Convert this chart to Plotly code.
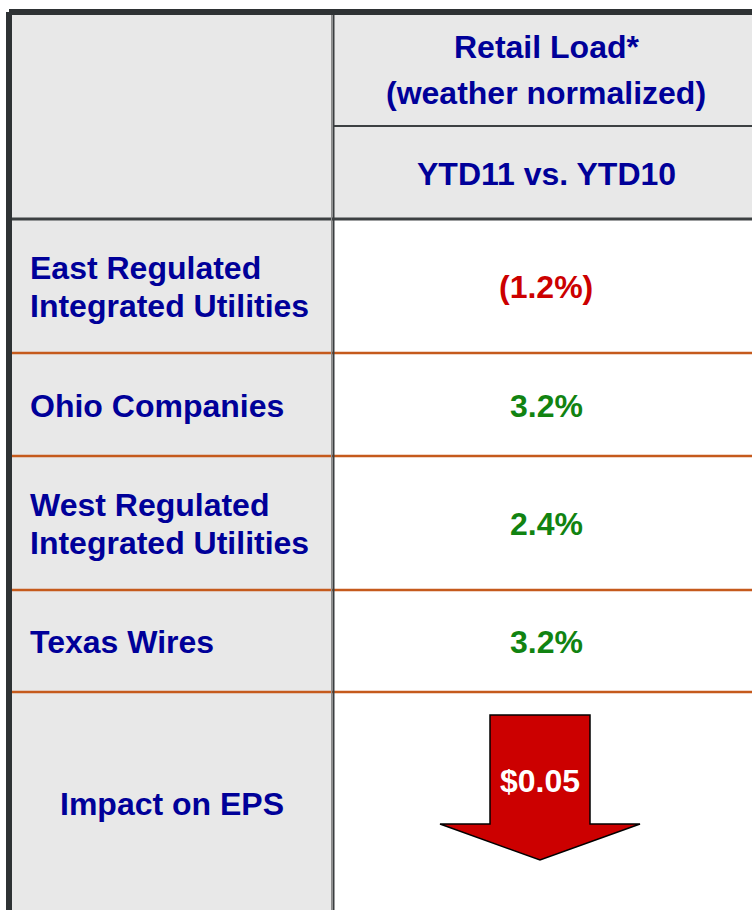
import plotly.graph_objects as go

# ---------------- data ----------------
header_title = ["Retail Load*", "(weather normalized)"]
header_period = "YTD11 vs. YTD10"
segments = [
    ["East Regulated", "Integrated Utilities"],
    ["Ohio Companies"],
    ["West Regulated", "Integrated Utilities"],
    ["Texas Wires"],
]
load_change_pct = [-1.2, 3.2, 2.4, 3.2]
eps_label = "Impact on EPS"
eps_impact = -0.05

# ---------------- style / layout ----------------
W, H = 752, 910
FONT = "Liberation Sans, Arial, sans-serif"
FS = 32
NAVY = "#000099"
RED = "#cc0000"
GREEN = "#118311"
ORANGE = "#c55a1c"
GREY_BG = "#e8e8e8"
DARK = "#2e3234"

col_left_x0, col_split, col_right_x1 = 12, 333, 760
header_edges = [15, 126, 219]
row_edges = [219, 353, 456, 590, 692, 910]

fig = go.Figure()
shapes = []
ann = []

# backgrounds
shapes.append(dict(type="rect", x0=col_left_x0, x1=col_split, y0=header_edges[0], y1=H,
                   fillcolor=GREY_BG, line_width=0, layer="below"))
shapes.append(dict(type="rect", x0=col_split, x1=col_right_x1, y0=header_edges[0], y1=header_edges[2],
                   fillcolor=GREY_BG, line_width=0, layer="below"))

# orange row separators
for y in row_edges[1:-1]:
    shapes.append(dict(type="line", x0=col_left_x0, x1=col_right_x1, y0=y, y1=y,
                       line=dict(color=ORANGE, width=2.5)))

# header lines
shapes.append(dict(type="line", x0=col_split, x1=col_right_x1, y0=header_edges[1], y1=header_edges[1],
                   line=dict(color="#3c4042", width=2)))
shapes.append(dict(type="line", x0=col_left_x0, x1=col_right_x1, y0=header_edges[2], y1=header_edges[2],
                   line=dict(color="#3c4042", width=3)))

# vertical divider
shapes.append(dict(type="line", x0=col_split - 1.5, x1=col_split - 1.5, y0=header_edges[0], y1=H,
                   line=dict(color="#8c8c8c", width=1)))
shapes.append(dict(type="line", x0=col_split + 0.5, x1=col_split + 0.5, y0=header_edges[0], y1=H,
                   line=dict(color="#3a3d3f", width=2)))

# outer borders (top and left)
shapes.append(dict(type="rect", x0=9, x1=W, y0=9, y1=15, fillcolor=DARK, line_width=0))
shapes.append(dict(type="rect", x0=6, x1=12, y0=12, y1=H, fillcolor=DARK, line_width=0))

right_cx = (col_split + col_right_x1) / 2 - 0.5


def text(x, y, s, color=NAVY, xanchor="center", size=FS):
    ann.append(dict(x=x, y=y, xref="x", yref="y", text=f"<b>{s}</b>", showarrow=False,
                    xanchor=xanchor, yanchor="middle",
                    font=dict(family=FONT, size=size, color=color)))


# header text
text(right_cx, 47, header_title[0])
text(right_cx, 93, header_title[1])
text(right_cx, (header_edges[1] + header_edges[2]) / 2 + 1, header_period)

# rows
line_gap = 38
for i, (lines, v) in enumerate(zip(segments, load_change_pct)):
    cy = (row_edges[i] + row_edges[i + 1]) / 2 + 1
    n = len(lines)
    for k, ln in enumerate(lines):
        text(28, cy + (k - (n - 1) / 2) * line_gap, ln, xanchor="left")
    s = f"({abs(v):.1f}%)" if v < 0 else f"{v:.1f}%"
    text(right_cx, cy, s, color=RED if v < 0 else GREEN)

# EPS row
eps_cy = (row_edges[-2] + row_edges[-1]) / 2 + 3
text((col_left_x0 + col_split) / 2 - 1, eps_cy, eps_label)

# down arrow for negative EPS impact
ax = 540
top, shoulder, tip = 715, 824, 860
shaft_hw, head_hw = 50, 100
if eps_impact < 0:
    path = (f"M {ax - shaft_hw},{top} L {ax + shaft_hw},{top} L {ax + shaft_hw},{shoulder} "
            f"L {ax + head_hw},{shoulder} L {ax},{tip} L {ax - head_hw},{shoulder} "
            f"L {ax - shaft_hw},{shoulder} Z")
    shapes.append(dict(type="path", path=path, fillcolor="#cc0000",
                       line=dict(color="black", width=1.5)))
text(ax, 781, f"${abs(eps_impact):.2f}", color="white")

fig.update_layout(
    width=W, height=H,
    margin=dict(l=0, r=0, t=0, b=0),
    paper_bgcolor="white", plot_bgcolor="white",
    xaxis=dict(range=[0, W], visible=False, fixedrange=True),
    yaxis=dict(range=[H, 0], visible=False, fixedrange=True),
    shapes=shapes, annotations=ann, showlegend=False,
)
fig.write_html("out.html", config={"displayModeBar": False},
               post_script="document.body.style.margin='0';document.body.style.overflow='hidden';")
